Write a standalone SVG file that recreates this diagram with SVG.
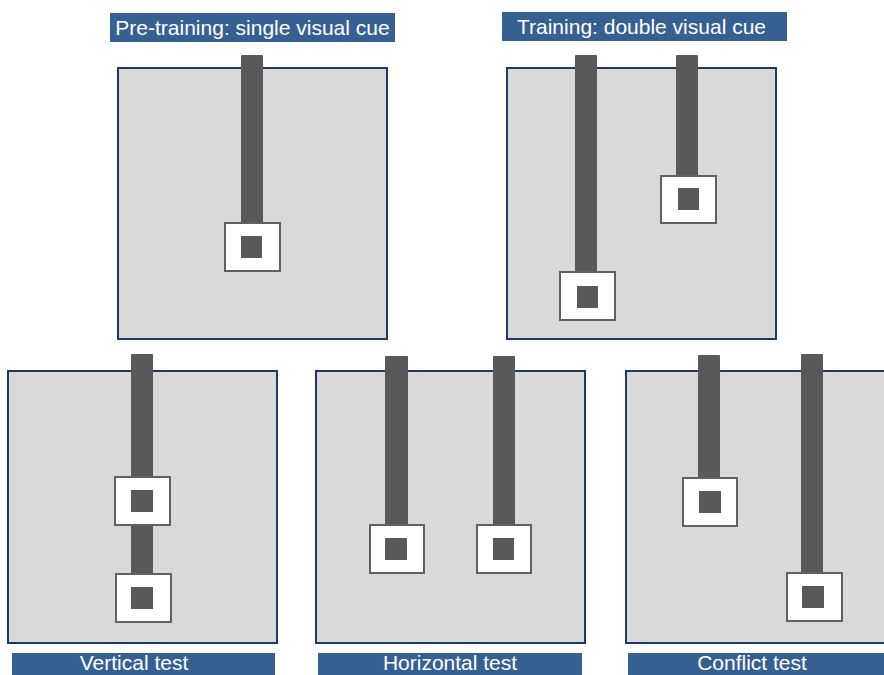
<svg xmlns="http://www.w3.org/2000/svg" width="884" height="675" viewBox="0 0 884 675">
<style>
.bg{fill:#ffffff}
.panel{fill:#d9d9d9;stroke:#1f3864;stroke-width:2}
.bar{fill:#595959}
.sq{fill:#ffffff;stroke:#616161;stroke-width:2}
.in{fill:#595959}
.lab{fill:#376092}
.t{font-family:"Liberation Sans",Arial,sans-serif;font-size:21px;fill:#ffffff;text-anchor:middle}
</style>
<rect class="bg" x="0" y="0" width="884" height="675"/>

<g id="pretraining">
  <rect class="lab" x="110" y="13" width="285" height="29"/>
  <text class="t" x="252.5" y="35">Pre-training: single visual cue</text>
  <rect class="panel" x="118" y="68" width="269" height="271"/>
  <rect class="bar" x="241" y="55" width="22" height="170" rx="1"/>
  <rect class="sq" x="225" y="223" width="55" height="48"/>
  <rect class="in" x="241" y="236" width="21" height="22"/>
</g>

<g id="training">
  <rect class="lab" x="502" y="12" width="285" height="29"/>
  <text class="t" x="641.5" y="34">Training: double visual cue</text>
  <rect class="panel" x="507" y="68" width="269" height="271"/>
  <rect class="bar" x="575" y="55" width="22" height="220" rx="1"/>
  <rect class="bar" x="676" y="55" width="22" height="123" rx="1"/>
  <rect class="sq" x="661" y="176" width="55" height="47"/>
  <rect class="in" x="678" y="188" width="21" height="22"/>
  <rect class="sq" x="560" y="272" width="55" height="48"/>
  <rect class="in" x="577" y="286" width="21" height="22"/>
</g>

<g id="vertical-test">
  <rect class="panel" x="8" y="371" width="269" height="272"/>
  <rect class="bar" x="131" y="354" width="22" height="222" rx="1"/>
  <rect class="sq" x="115" y="477" width="55" height="48"/>
  <rect class="in" x="131" y="490" width="22" height="22"/>
  <rect class="sq" x="116" y="574" width="55" height="48"/>
  <rect class="in" x="131" y="587" width="22" height="22"/>
  <rect class="lab" x="12" y="653" width="263" height="30"/>
  <text class="t" x="134" y="670">Vertical test</text>
</g>

<g id="horizontal-test">
  <rect class="panel" x="316" y="371" width="269" height="272"/>
  <rect class="bar" x="385" y="356" width="23" height="171" rx="1"/>
  <rect class="bar" x="493" y="356" width="22" height="171" rx="1"/>
  <rect class="sq" x="370" y="525" width="54" height="48"/>
  <rect class="in" x="385" y="538" width="22" height="22"/>
  <rect class="sq" x="477" y="525" width="54" height="48"/>
  <rect class="in" x="493" y="538" width="21" height="22"/>
  <rect class="lab" x="318" y="653" width="264" height="30"/>
  <text class="t" x="450" y="670">Horizontal test</text>
</g>

<g id="conflict-test">
  <rect class="panel" x="626" y="371" width="270" height="272"/>
  <rect class="bar" x="698" y="355" width="22" height="125" rx="1"/>
  <rect class="bar" x="801" y="354" width="22" height="221" rx="1"/>
  <rect class="sq" x="683" y="478" width="54" height="48"/>
  <rect class="in" x="699" y="491" width="22" height="22"/>
  <rect class="sq" x="787" y="573" width="55" height="48"/>
  <rect class="in" x="802" y="586" width="22" height="22"/>
  <rect class="lab" x="628" y="653" width="270" height="30"/>
  <text class="t" x="752" y="670">Conflict test</text>
</g>
</svg>
